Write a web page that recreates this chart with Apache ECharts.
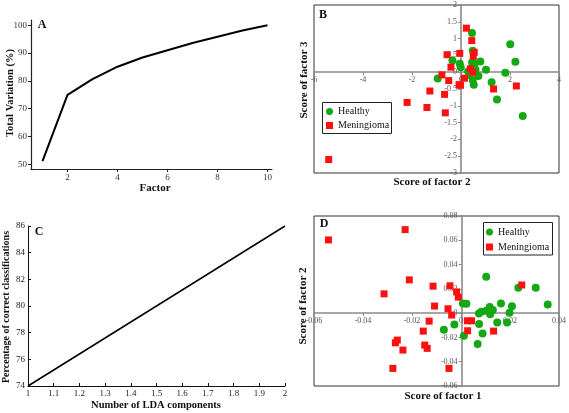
<!DOCTYPE html>
<html><head><meta charset="utf-8">
<script src="https://cdn.jsdelivr.net/npm/echarts@6/dist/echarts.min.js"></script>
<style>html,body{margin:0;padding:0;background:#fff}#c{width:569px;height:413px}</style>
</head><body><div id="c"></div>
<script>
// Panel A: cumulative variation
const factors = [1,2,3,4,5,6,7,8,9,10];
const totalVariation = [51.1,75.0,80.6,85.1,88.4,91.0,93.6,95.9,98.1,100.0];
const aXTicks = [2,4,6,8,10];
const aYTicks = [50,60,70,80,90,100];
// Panel C: LDA
const ldaComponents = [1,2];
const correctPct = [74,86];
// Panel B: factor 2 vs factor 3
const bHealthy = [[0.45,1.17],[2.01,0.83],[2.22,0.31],[0.48,0.64],[0.45,0.29],[0.79,0.32],[1.02,0.07],[1.81,-0.02],[1.25,-0.30],[1.47,-0.81],[2.52,-1.30],[-0.35,0.35],[-0.05,0.25],[-0.01,0.15],[-0.95,-0.19],[0.29,0.02],[0.59,0.07],[0.71,-0.11],[0.48,-0.23],[0.52,-0.37],[0.35,-0.08],[0.55,0.25]];
const bMeningioma = [[0.22,1.31],[0.44,0.94],[-0.57,0.52],[-0.05,0.56],[0.54,0.59],[0.50,0.47],[-0.41,0.15],[0.38,0.10],[0.48,0.0],[-0.78,-0.08],[-0.50,-0.25],[0.14,-0.18],[-0.08,-0.37],[-0.02,-0.39],[1.33,-0.50],[2.26,-0.41],[-1.27,-0.56],[-0.67,-0.66],[-2.2,-0.90],[-1.39,-1.05],[-0.64,-1.21],[-5.4,-2.60]];
// Panel D: factor 1 vs factor 2
const dHealthy = [[0.0103,0.0299],[0.0234,0.0210],[0.0305,0.0210],[0.0354,0.0071],[0.0008,0.0080],[0.0022,0.0078],[0.0163,0.0080],[0.0208,0.0057],[0.0117,0.0050],[0.0130,0.0025],[0.0103,0.0019],[0.0083,0.0011],[0.0073,-0.0003],[0.0119,-0.0010],[0.0198,0.0003],[0.0148,-0.0077],[0.0188,-0.0077],[0.0074,-0.0090],[-0.0027,-0.0093],[-0.0070,-0.0136],[0.0088,-0.0168],[0.0012,-0.0187],[0.0068,-0.0255]];
const dMeningioma = [[-0.0541,0.0603],[-0.0228,0.0688],[-0.0211,0.0274],[-0.0314,0.0159],[-0.0114,0.0222],[-0.0108,0.0058],[-0.0045,0.0225],[-0.0018,0.0175],[-0.0011,0.0132],[-0.0053,0.0036],[-0.0038,-0.0016],[-0.0130,-0.0066],[-0.0154,-0.0148],[-0.0148,-0.0263],[-0.0138,-0.0290],[-0.0260,-0.0222],[-0.0268,-0.0244],[-0.0237,-0.0304],[-0.0278,-0.0455],[-0.0049,-0.0455],[0.0026,-0.0063],[0.0043,-0.0063],[0.0027,-0.0145],[0.0133,-0.0148],[0.0248,0.0232]];

const SERIF = 'Liberation Serif';
const GREEN = '#15a815', RED = '#ff1010';
const chart = echarts.init(document.getElementById('c'), null, {renderer:'canvas'});

// grid boxes
const G = [
  {left:31,top:20,width:241,height:149},
  {left:314,top:5,width:245,height:168},
  {left:28,top:226,width:257,height:160},
  {left:314,top:216,width:246,height:170}
];
// pixel offset that moves a scatter axis onto the other axis' zero
function zeroOffsetX(g,min,max){ return -(g.width*(0-min)/(max-min)); }
function zeroOffsetY(g,min,max){ return -(g.height*(0-min)/(max-min)); }

function scatterAxis(min,max,interval,pos,offset){
  return {type:'value',min:min,max:max,interval:interval,splitLine:{show:false},position:pos,offset:offset,
    axisLine:{show:true,onZero:false,lineStyle:{color:'#8a8a8a',width:1.6}},
    axisTick:{show:true,length:3,lineStyle:{color:'#8a8a8a'}},
    axisLabel:{fontFamily:SERIF,fontSize:8,color:'#555',margin:4}};
}
function txt(x,y,s,size,bold,rot){
  return {type:'text',x:x,y:y,rotation:rot||0,z:100,style:{text:s,font:(bold?'bold ':'')+size+'px "'+SERIF+'"',fill:'#111',align:'center',verticalAlign:'middle'}};
}
function legendAt(left,top,gap){
  return {left:left,top:top,orient:'vertical',itemWidth:7,itemHeight:7,itemGap:gap,padding:0,z:20,
    textStyle:{fontFamily:SERIF,fontSize:10,color:'#111'},
    data:[{name:'Healthy',icon:'circle'},{name:'Meningioma',icon:'rect'}]};
}

const bX = [-6,4,2], bY = [-3,2,0.5], dX = [-0.06,0.04,0.02], dY = [-0.06,0.08,0.02];

const option = {
  animation:false,
  backgroundColor:'#fff',
  grid:[
    Object.assign({show:false},G[0]),
    Object.assign({show:true,borderColor:'#333',borderWidth:1},G[1]),
    Object.assign({show:false},G[2]),
    Object.assign({show:true,borderColor:'#333',borderWidth:1},G[3])
  ],
  xAxis:[
    {gridIndex:0,type:'value',min:0.54,max:10.18,splitLine:{show:false},
      axisLine:{lineStyle:{color:'#222',width:1.2}},
      axisTick:{customValues:aXTicks,length:3,lineStyle:{color:'#222'}},
      axisLabel:{customValues:aXTicks,fontFamily:SERIF,fontSize:9,color:'#333',margin:4}},
    Object.assign(scatterAxis(bX[0],bX[1],bX[2],'bottom',zeroOffsetY(G[1],bY[0],bY[1])),{gridIndex:1}),
    {gridIndex:2,type:'value',min:1,max:2,interval:0.1,splitLine:{show:false},
      axisLine:{lineStyle:{color:'#111',width:1}},
      axisTick:{inside:true,length:3,lineStyle:{color:'#111'}},
      axisLabel:{fontFamily:SERIF,fontSize:9,color:'#222',margin:3}},
    Object.assign(scatterAxis(dX[0],dX[1],dX[2],'bottom',zeroOffsetY(G[3],dY[0],dY[1])),{gridIndex:3})
  ],
  yAxis:[
    {gridIndex:0,type:'value',min:48.3,max:101.9,splitLine:{show:false},
      axisLine:{show:true,lineStyle:{color:'#222',width:1.2}},
      axisTick:{show:true,customValues:aYTicks,length:3,lineStyle:{color:'#222'}},
      axisLabel:{customValues:aYTicks,fontFamily:SERIF,fontSize:9,color:'#333',margin:4}},
    Object.assign(scatterAxis(bY[0],bY[1],bY[2],'left',zeroOffsetX(G[1],bX[0],bX[1])),{gridIndex:1}),
    {gridIndex:2,type:'value',min:74,max:86,interval:2,splitLine:{show:false},
      axisLine:{show:true,lineStyle:{color:'#111',width:1}},
      axisTick:{show:true,inside:true,length:3,lineStyle:{color:'#111'}},
      axisLabel:{fontFamily:SERIF,fontSize:9,color:'#222',margin:3}},
    Object.assign(scatterAxis(dY[0],dY[1],dY[2],'left',zeroOffsetX(G[3],dX[0],dX[1])),{gridIndex:3})
  ],
  legend:[ legendAt(326,106.5,4), legendAt(486,227,5) ],
  series:[
    {type:'line',xAxisIndex:0,yAxisIndex:0,data:factors.map((f,i)=>[f,totalVariation[i]]),
      showSymbol:false,lineStyle:{color:'#000',width:2},silent:true},
    {name:'Healthy',type:'scatter',xAxisIndex:1,yAxisIndex:1,data:bHealthy,symbol:'circle',symbolSize:8,itemStyle:{color:GREEN,opacity:1}},
    {name:'Meningioma',type:'scatter',xAxisIndex:1,yAxisIndex:1,data:bMeningioma,symbol:'rect',symbolSize:7,itemStyle:{color:RED,opacity:1}},
    {type:'line',xAxisIndex:2,yAxisIndex:2,data:ldaComponents.map((c,i)=>[c,correctPct[i]]),
      showSymbol:false,lineStyle:{color:'#000',width:1.5},silent:true},
    {name:'Healthy',type:'scatter',xAxisIndex:3,yAxisIndex:3,data:dHealthy,symbol:'circle',symbolSize:8,itemStyle:{color:GREEN,opacity:1}},
    {name:'Meningioma',type:'scatter',xAxisIndex:3,yAxisIndex:3,data:dMeningioma,symbol:'rect',symbolSize:7,itemStyle:{color:RED,opacity:1}}
  ],
  graphic:[
    {type:'rect',z:5,shape:{x:322.5,y:102.5,width:69,height:31},style:{fill:'#fff',stroke:'#222',lineWidth:1}},
    {type:'rect',z:5,shape:{x:483.5,y:222.5,width:69,height:32.5},style:{fill:'#fff',stroke:'#222',lineWidth:1}},
    txt(42,25,'A',12,true), txt(323,15,'B',12,true), txt(39,232,'C',12,true), txt(324,224,'D',12,true),
    txt(155,188,'Factor',11,true),
    txt(10,93,'Total Variation (%)',10.5,true,Math.PI/2),
    txt(432,182,'Score of factor 2',11,true),
    txt(304,80,'Score of factor 3',11,true,Math.PI/2),
    txt(156,405,'Number of LDA components',10.5,true),
    txt(6,307,'Percentage of correct classifications',10,true,Math.PI/2),
    txt(443,396,'Score of factor 1',11,true),
    txt(303,306,'Score of factor 2',11,true,Math.PI/2)
  ]
};
chart.setOption(option);
</script></body></html>
